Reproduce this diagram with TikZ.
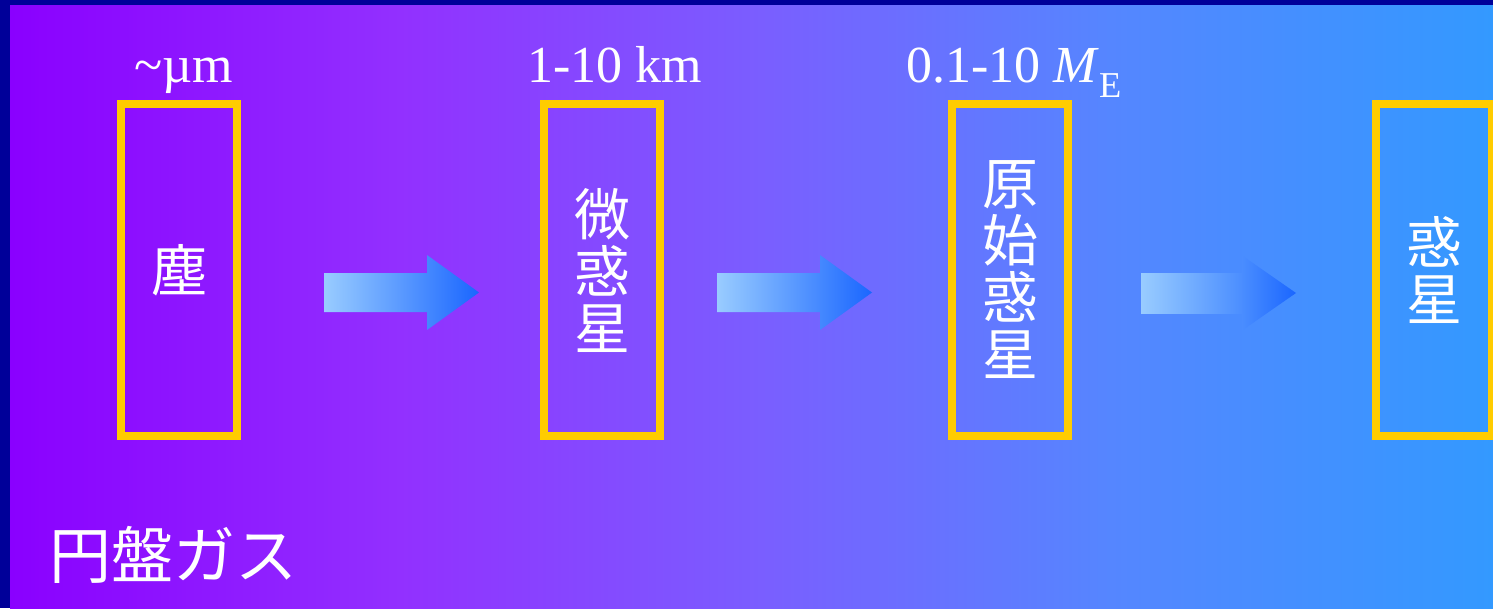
\documentclass[tikz,border=0pt]{standalone}
\usepackage{fontspec}
\setmainfont{Liberation Serif}
\newfontfamily\cjk{Noto Sans CJK JP}
\usetikzlibrary{positioning}

\definecolor{frameblue}{RGB}{0,0,153}
\definecolor{bgA}{RGB}{138,0,255}
\definecolor{bgB}{RGB}{146,48,255}
\definecolor{bgC}{RGB}{122,94,255}
\definecolor{bgD}{RGB}{85,134,255}
\definecolor{bgE}{RGB}{51,153,255}
\definecolor{bgfade}{RGB}{74,141,255}
\definecolor{boxyellow}{RGB}{255,204,0}
\definecolor{arrowlight}{RGB}{153,204,255}
\definecolor{arrowmid}{RGB}{120,172,255}
\definecolor{arrowdark}{RGB}{26,102,255}

\begin{document}
\begin{tikzpicture}[x=1pt,y=-1pt,
  stagebox/.style={draw=boxyellow,line width=8pt,minimum width=116pt,minimum height=332pt,inner sep=0pt,align=center,text=white,font=\cjk\fontsize{56}{57}\selectfont},
  sizelabel/.style={text=white,inner sep=0pt,anchor=base,font=\fontsize{52}{60}\selectfont},
  blockarrow/.style={left color=arrowlight,right color=arrowdark},
  pics/bigarrow/.style={code={
    \shade[blockarrow] (0,-19.5) -- (103,-19.5) -- (103,-37.5) -- (155,0) -- (103,37.5) -- (103,19.5) -- (0,19.5) -- cycle;}}]
\useasboundingbox (0,0) rectangle (1493,608);
% background
\shade[left color=bgA,right color=bgB] (10,5) rectangle (401,608);
\shade[left color=bgB,right color=bgC] (400,5) rectangle (761,608);
\shade[left color=bgC,right color=bgD] (760,5) rectangle (1111,608);
\shade[left color=bgD,right color=bgE] (1110,5) rectangle (1493,608);
\fill[frameblue] (0,0) rectangle (10,608);
\fill[frameblue] (0,0) rectangle (1493,5);

% stages
\node[stagebox] (dust) at (179,270) {塵};
\node[stagebox] (plmal) at (602,270) {微\\惑\\星};
\node[stagebox] (proto) at (1010,270) {原\\始\\惑\\星};
\node[stagebox] (planet) at (1434,270) {惑\\星};

\node[sizelabel] (dustsize) at (184,82) {\textasciitilde µm};
\node[sizelabel] (plmalsize) at (615,82) {1-10 km};
\node[sizelabel] (protosize) at (1014,82) {0.1-10 \textit{M}\textsubscript{E}};

\node[text=white,anchor=west,inner sep=0pt,font=\cjk\fontsize{62}{62}\selectfont] (gas) at (49,555) {円盤ガス};

% arrows
\pic at (324,292.5) {bigarrow};
\pic at (717,292.5) {bigarrow};
\shade[left color=arrowlight,middle color=arrowmid,right color=bgfade] (1141,273) rectangle (1243,313);
\shade[left color=bgfade,right color=arrowdark] (1242,255.5) -- (1296,293) -- (1242,330.5) -- cycle;
\end{tikzpicture}
\end{document}
